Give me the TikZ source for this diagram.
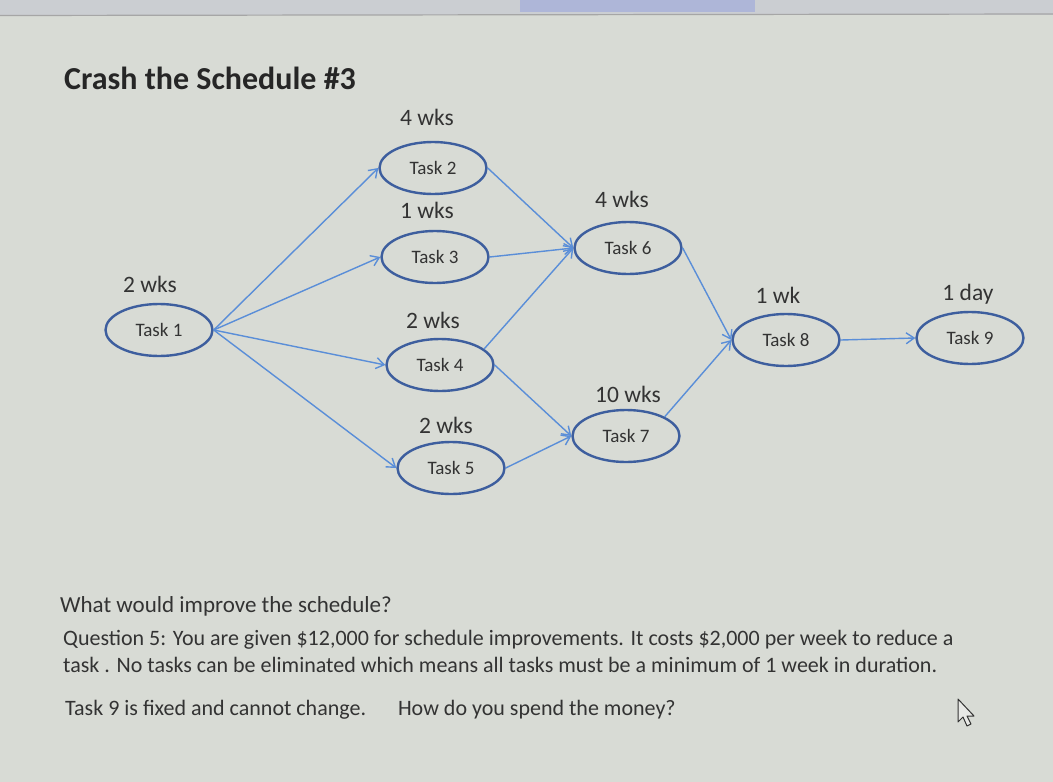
\documentclass[tikz,border=0pt]{standalone}
\usepackage{fontspec}
\setmainfont{Carlito}
\usetikzlibrary{shapes.geometric,arrows.meta}
\definecolor{bg}{HTML}{D8DBD5}
\definecolor{strip}{HTML}{CBCED2}
\definecolor{stripblue}{HTML}{AEB6D8}
\definecolor{ring}{HTML}{3D5E9E}
\definecolor{link}{HTML}{5A8ED8}
\definecolor{ink}{HTML}{333333}
\tikzset{
  task/.style={ellipse, draw=ring, line width=2.4pt, minimum width=107pt, minimum height=52pt, inner sep=0pt, font=\fontsize{19}{21}\selectfont, text=ink},
  dur/.style={font=\fontsize{23.5}{25}\selectfont, text=ink, inner sep=0pt},
  flow/.style={draw=link, line width=1.4pt, -{Straight Barb[length=8pt,width=11pt]}},
  para/.style={font=\fontsize{22}{24}\selectfont, text=ink, anchor=west, inner sep=0pt}
}
\begin{document}
\begin{tikzpicture}[x=1pt,y=-1pt]
\fill[bg] (0,0) rectangle (1053,782);
\useasboundingbox (0,0) rectangle (1053,782);
\fill[strip] (0,0) rectangle (1053,15);
\fill[stripblue] (520,0) rectangle (755,12);
\draw[gray!70, line width=1.2pt] (0,15.5) -- (1053,14);

\node[anchor=west, font=\bfseries\fontsize{32}{34}\selectfont, text=black!85, inner sep=0pt] (title) at (64,78) {Crash the Schedule \#3};

\node[task] (t1) at (159,330) {Task 1\hspace{10pt}};
\node[task] (t2) at (433,168) {Task 2\hspace{6pt}};
\node[task] (t3) at (435,257) {Task 3};
\node[task] (t4) at (440,365) {Task 4};
\node[task] (t5) at (451,468) {Task 5};
\node[task] (t6) at (628,248) {Task 6};
\node[task] (t7) at (626,436) {Task 7};
\node[task] (t8) at (786,340) {Task 8};
\node[task] (t9) at (970,338) {Task 9};

\node[dur] (d2) at (427,117) {4 wks};
\node[dur] (d3) at (427,210) {1 wks};
\node[dur] (d1) at (150,284) {2 wks};
\node[dur] (d4) at (433,320) {2 wks};
\node[dur] (d5) at (446,425) {2 wks};
\node[dur] (d6) at (622,199) {4 wks};
\node[dur] (d7) at (628,394) {10 wks};
\node[dur] (d8) at (778,295) {1 wk};
\node[dur] (d9) at (968,294) {1 day};

\draw[flow] (t1.east) -- (t2.west);
\draw[flow] (t1.east) -- (t3.west);
\draw[flow] (t1.east) -- (t4.west);
\draw[flow] (t1.east) -- (t5.west);
\draw[flow] (t2.east) -- (t6.west);
\draw[flow] (t3.east) -- (t6.west);
\draw[flow] (t4.20) -- (t6.west);
\draw[flow] (t4.east) -- (t7.west);
\draw[flow] (t5.east) -- (t7.west);
\draw[flow] (t6.east) -- (t8.west);
\draw[flow] (t7.north east) -- (t8.west);
\draw[flow] (t8.east) -- (t9.west);

\node[para, font=\fontsize{23}{25}\selectfont] (q0) at (60,606) {What would improve the schedule?};
\node[para] (q1) at (63,640) {Question 5: You are given \$12,000 for schedule improvements. It costs \$2,000 per week to reduce a};
\node[para] (q2) at (63,665) {task . No tasks can be eliminated which means all tasks must be a minimum of 1 week in duration.};
\node[para] (q3) at (65,710) {Task 9 is fixed and cannot change.\hspace{32pt}How do you spend the money?};

\draw[ink, line width=1pt, fill=bg!60!white, line join=round] (958,699) -- (958,722) -- (963,717) -- (967,726) -- (971,724) -- (967,716) -- (974,716) -- cycle;
\end{tikzpicture}
\end{document}
